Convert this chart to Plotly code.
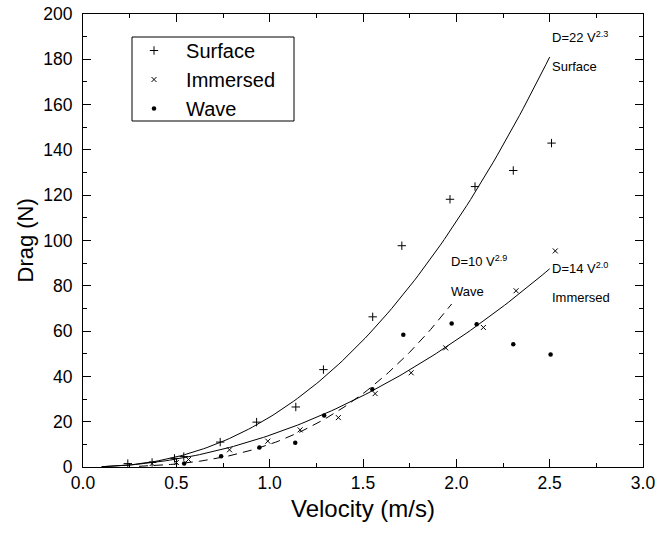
import plotly.graph_objects as go

# ---- measured data ----
surface_v = [0.24, 0.37, 0.49, 0.54, 0.735, 0.93, 1.14, 1.288, 1.552, 1.708, 1.966, 2.10, 2.305, 2.51]
surface_d = [1.5, 2.0, 3.8, 4.6, 11.0, 19.8, 26.5, 43.0, 66.3, 97.7, 118.2, 123.8, 130.9, 143.0]

immersed_v = [0.37, 0.50, 0.565, 0.785, 0.99, 1.163, 1.368, 1.565, 1.758, 1.943, 2.145, 2.32, 2.53]
immersed_d = [1.5, 2.0, 3.3, 7.6, 11.4, 16.4, 21.8, 32.4, 41.6, 52.6, 61.6, 77.8, 95.4]

wave_v = [0.542, 0.74, 0.945, 1.137, 1.292, 1.55, 1.716, 1.975, 2.109, 2.305, 2.505]
wave_d = [1.6, 4.7, 8.6, 10.7, 22.7, 34.3, 58.4, 63.4, 63.0, 54.2, 49.7]

# ---- power-law fits shown on the chart: D = a * V^b ----
fit_names = ["Surface", "Immersed", "Wave"]
fit_a = [22, 14, 10]
fit_b = [2.3, 2.0, 2.9]
fit_vmin = [0.1, 0.1, 0.3]
fit_vmax = [2.5, 2.5, 1.975]
fit_dash = ["solid", "solid", "9px,6px"]

FONT = "Liberation Sans, Arial, sans-serif"

fig = go.Figure()

for name, a, b, v0, v1, dash in zip(fit_names, fit_a, fit_b, fit_vmin, fit_vmax, fit_dash):
    n = 120
    vs = [v0 + (v1 - v0) * i / (n - 1) for i in range(n)]
    ds = [a * v ** b for v in vs]
    fig.add_trace(go.Scatter(x=vs, y=ds, mode="lines", showlegend=False,
                             line=dict(color="black", width=1, dash=dash),
                             hoverinfo="skip"))

fig.add_trace(go.Scatter(x=surface_v, y=surface_d, mode="markers", name="&nbsp;&nbsp;Surface",
                         marker=dict(symbol="cross-thin", size=6, color="black",
                                     line=dict(color="black", width=1))))
fig.add_trace(go.Scatter(x=immersed_v, y=immersed_d, mode="markers", name="&nbsp;&nbsp;Immersed",
                         marker=dict(symbol="x-thin", size=5, color="black",
                                     line=dict(color="black", width=1))))
fig.add_trace(go.Scatter(x=wave_v, y=wave_d, mode="markers", name="&nbsp;&nbsp;Wave",
                         marker=dict(symbol="circle", size=4.5, color="black")))

# plot area in page pixels: 83..643 x, 14..467 y
PX0, PX1, PY0, PY1 = 83, 643, 14, 467
def px_to_paper_x(px):
    return (px - PX0) / (PX1 - PX0)
def px_to_paper_y(py):
    return (PY1 - py) / (PY1 - PY0)

ann_font = dict(family=FONT, size=13, color="black")
annotations = [
    ("D=22 V<sup>2.3</sup>", 2.50, 190),
    ("Surface", 2.50, 177),
    ("D=10 V<sup>2.9</sup>", 1.963, 91),
    ("Wave", 1.963, 77.5),
    ("D=14 V<sup>2.0</sup>", 2.50, 88),
    ("Immersed", 2.50, 75),
]
for text, x, y in annotations:
    fig.add_annotation(x=x, y=y, text=text, showarrow=False, xanchor="left",
                       yanchor="middle", font=ann_font)

# y-axis title
fig.add_annotation(x=px_to_paper_x(25), y=0.5, xref="paper", yref="paper",
                   text="Drag (N)", textangle=-90, showarrow=False,
                   xanchor="center", yanchor="middle",
                   font=dict(family=FONT, size=22, color="black"))

axis_common = dict(
    showline=True, linecolor="black", linewidth=1, mirror="ticks",
    ticks="inside", ticklen=8, tickwidth=1.2, tickcolor="black",
    showgrid=False, zeroline=False, automargin=False,
    tickfont=dict(family=FONT, size=17.5, color="black"),
)

fig.update_xaxes(range=[0, 3.0], dtick=0.5, tick0=0, tickformat=".1f",
                 minor=dict(dtick=0.25, ticks="inside", ticklen=4, tickcolor="black", showgrid=False),
                 title=dict(text="Velocity (m/s)", font=dict(family=FONT, size=24, color="black"), standoff=8),
                 **axis_common)
fig.update_yaxes(range=[0, 200], dtick=20, tick0=0, ticklabelstandoff=6,
                 minor=dict(dtick=10, ticks="inside", ticklen=4, tickcolor="black", showgrid=False),
                 **axis_common)

# legend frame
fig.add_shape(type="rect", xref="paper", yref="paper",
              x0=px_to_paper_x(132), x1=px_to_paper_x(294),
              y0=px_to_paper_y(121), y1=px_to_paper_y(37),
              line=dict(color="black", width=1), fillcolor="rgba(0,0,0,0)", layer="above")

fig.update_layout(
    width=657, height=535,
    margin=dict(l=83, r=14, t=14, b=68),
    paper_bgcolor="white", plot_bgcolor="white",
    font=dict(family=FONT, color="black"),
    legend=dict(x=px_to_paper_x(133), y=px_to_paper_y(31), xanchor="left", yanchor="top",
                borderwidth=0, bgcolor="rgba(255,255,255,0)",
                font=dict(family=FONT, size=20, color="black"),
                itemwidth=32),
)

fig.write_html("out.html", config={"displayModeBar": False},
               post_script="document.body.style.margin='0px';")
